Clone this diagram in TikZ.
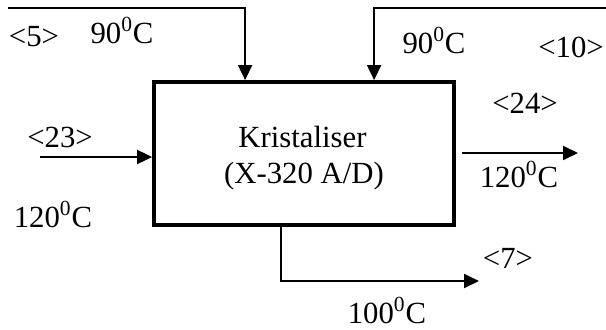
\documentclass[tikz,border=0pt]{standalone}
\usepackage{fontspec}
\setmainfont{Liberation Serif}
\usetikzlibrary{arrows.meta, calc}
\tikzset{
    unit/.style={draw, line width=2.2pt, minimum width=6cm, minimum height=2.86cm, inner sep=0pt},
    flow/.style={line width=1.1pt, -{Triangle[length=0.3cm, width=0.28cm]}},
    unitlabel/.style={anchor=base, inner sep=0pt, font=\fontsize{17.5}{20}\selectfont},
    streamlabel/.style={anchor=base, inner sep=0pt, font=\fontsize{17.5}{20}\selectfont}
}

\begin{document}
\begin{tikzpicture}[x=0.02cm, y=-0.02cm]
    \useasboundingbox (0,0) rectangle (606,329);

    % ---------------- crystalliser ----------------
    \node[unit] (kris) at (304,153.5) {};
    \node[unitlabel] (kname) at (302.5,147) {Kristaliser};
    \node[unitlabel] (ktag) at (304,183) {(X-320 A/D)};

    % ---------------- feeds ----------------
    \coordinate (in5) at (8,8);
    \coordinate (in10) at (606,8);
    \coordinate (in23) at (40,157);

    \draw[flow] (in5) -| ($(kris.north west)+(93,0)$);
    \draw[flow] (in10) -| ($(kris.north west)+(222,0)$);
    \draw[flow] (in23) -- (in23 -| kris.west);

    \node[streamlabel] (l5) at (34,46) {<5>};
    \node[streamlabel] (t5) at (122,43) {90\textsuperscript{0}C};
    \node[streamlabel] (t10) at (434,53) {90\textsuperscript{0}C};
    \node[streamlabel] (l10) at (571,57) {<10>};
    \node[streamlabel] (l23) at (60,147) {<23>};
    \node[streamlabel] (t23) at (53,227) {120\textsuperscript{0}C};

    % ---------------- products ----------------
    \coordinate (out24) at (578,153);
    \coordinate (out7) at (479,281);

    \draw[flow] ($(kris.east |- out24)+(6,0)$) -- (out24);
    \draw[flow] ($(kris.south west)+(129,0)$) |- (out7);

    \node[streamlabel] (l24) at (525,113) {<24>};
    \node[streamlabel] (t24) at (519,187) {120\textsuperscript{0}C};
    \node[streamlabel] (l7) at (508,268) {<7>};
    \node[streamlabel] (t7) at (387,323) {100\textsuperscript{0}C};
\end{tikzpicture}
\end{document}
